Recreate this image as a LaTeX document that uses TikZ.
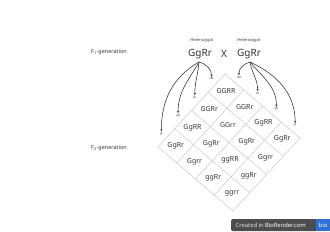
\documentclass[tikz,border=0pt]{standalone}
\usepackage{fontspec}
\setmainfont{Noto Sans}
\usepackage{tikz}
\usetikzlibrary{arrows.meta}

\definecolor{testo}{HTML}{333333}
\definecolor{griglia}{HTML}{C8C8C8}
\definecolor{banda}{HTML}{4D4D4D}
\definecolor{bioblu}{HTML}{2F6FD6}

\tikzset{
  genitore/.style={font=\fontsize{10}{10}\selectfont, text=testo, inner sep=1pt},
  cella/.style={font=\fontsize{7}{7}\selectfont, text=testo, inner sep=0pt},
  gamete/.style={font=\fontsize{3}{3}\selectfont, text=testo, inner sep=0.6pt},
  piccolo/.style={font=\fontsize{4}{4}\selectfont, text=testo, inner sep=0pt},
  etichetta/.style={font=\fontsize{5.5}{5.5}\selectfont, text=testo, inner sep=0pt},
  freccia/.style={-{Stealth[length=2.4pt,width=2pt]}, line width=0.55pt, draw=testo!90!black},
}

\begin{document}
\begin{tikzpicture}[x=1pt, y=-1pt, line cap=round, line join=round]
\useasboundingbox (0,0) rectangle (330,231);

% Generazioni
\node[etichetta] (funo) at (109,52) {F\textsubscript{1}-generation};
\node[etichetta] (fdue) at (109,148) {F\textsubscript{2}-generation};

% Genitori
\node[piccolo] (hetL) at (202,41) {Heterozygot};
\node[piccolo] (hetR) at (249,41) {Heterozygot};
\node[genitore] (pL) at (200,54) {GgRr};
\node[genitore] (pR) at (249,54) {GgRr};
\node[genitore] (croce) at (224,54) {X};

% Quadrato di Punnett (ruotato)
\begin{scope}[shift={(225,74)}, x={(18.75pt,-16pt)}, y={(-16.75pt,-18.25pt)}]
  \foreach \k in {0,...,4} {
    \draw[griglia, line width=0.5pt] (0,\k) -- (4,\k);
    \draw[griglia, line width=0.5pt] (\k,0) -- (\k,4);
  }
  % Gameti
  \foreach \g [count=\i from 0] in {GR,Gr,gR,gr} {
    \node[gamete] (gL\i) at (-0.27,\i+0.5) {\g};
    \node[gamete] (gR\i) at (\i+0.5,-0.27) {\g};
  }
  % Genotipi
  \foreach \c/\r/\t in {0/0/GGRR, 1/0/GGRr, 2/0/GgRR, 3/0/GgRr,
                        0/1/GGRr, 1/1/GGrr, 2/1/GgRr, 3/1/Ggrr,
                        0/2/GgRR, 1/2/GgRr, 2/2/ggRR, 3/2/ggRr,
                        0/3/GgRr, 1/3/Ggrr, 2/3/ggRr, 3/3/ggrr} {
    \node[cella] (c\c\r) at (\c+0.5,\r+0.5) {\t};
  }
\end{scope}

% Frecce genitore sinistro
\coordinate (oL) at (199,62);
\draw[freccia] (oL) to[out=-15, in=90] (gL0.north);
\draw[freccia] (oL) to[out=-95, in=90] (gL1.north);
\draw[freccia] (oL) to[out=-120, in=90] (gL2.north);
\draw[freccia] (oL) to[out=-150, in=90] (gL3.north);

% Frecce genitore destro
\coordinate (oR) at (250,62);
\draw[freccia] (oR) to[out=-165, in=90] (gR0.north);
\draw[freccia] (oR) to[out=-80, in=90] (gR1.north);
\draw[freccia] (oR) to[out=-50, in=90] (gR2.north);
\draw[freccia] (oR) to[out=-25, in=90] (gR3.north);

% Logo
\fill[banda, rounded corners=1.5pt] (231,219) rectangle (318,231);
\fill[bioblu] (316,219) rectangle (330,231);
\node[font=\fontsize{5.8}{5.8}\selectfont, text=white!75!gray, inner sep=0pt, anchor=west] (creato) at (235.5,225) {Created in};
\node[font=\bfseries\fontsize{5.8}{5.8}\selectfont, text=white, inner sep=0pt, anchor=west] (sito) at (creato.east) {\,BioRender.com};
\node[font=\bfseries\fontsize{5.8}{5.8}\selectfont, text=white, inner sep=0pt] (bio) at (323,225) {bio};

\end{tikzpicture}
\end{document}
